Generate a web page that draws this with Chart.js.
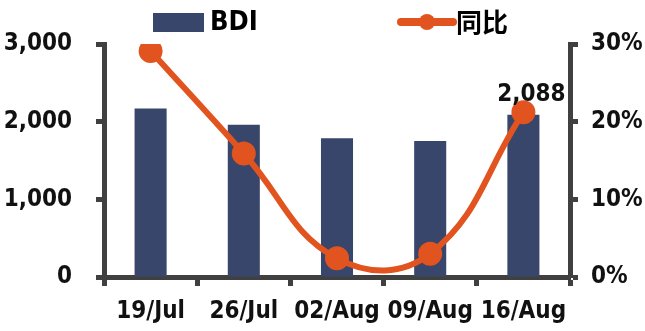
<!DOCTYPE html>
<html>
<head>
<meta charset="utf-8">
<script src="https://cdn.jsdelivr.net/npm/chart.js@4/dist/chart.umd.min.js"></script>
<style>
  html, body { margin: 0; padding: 0; background: #fff; }
</style>
</head>
<body>
<canvas id="chart" width="645" height="331"></canvas>
<script>
// data
const categories = ["19/Jul", "26/Jul", "02/Aug", "09/Aug", "16/Aug"];
const bdiValues = [2170, 1960, 1785, 1750, 2088];
const yoyValues = [0.291, 0.159, 0.024, 0.030, 0.212];
const leftTicks = [0, 1000, 2000, 3000];
const rightTicks = [0, 0.1, 0.2, 0.3];

const barColor = "#37466a";
const lineColor = "#e2541f";
const axisColor = "#404040";
const tickFamily = "'DejaVu Sans Condensed', 'DejaVu Sans', sans-serif";
const tickFont = { family: tickFamily, size: 24, weight: "bold" };

// leyenda a mano (barra + línea con punto)
const legendPlugin = {
    id: "customLegend",
    afterDraw(chart) {
        const ctx = chart.ctx;
        const ds = chart.data.datasets;
        ctx.save();
        ctx.textBaseline = "middle";

        ctx.fillStyle = ds[0].backgroundColor;
        ctx.fillRect(153, 13, 51, 19);
        ctx.fillStyle = "#000";
        ctx.font = "bold 27px " + tickFamily;
        ctx.fillText(ds[0].label, 210, 23);

        ctx.strokeStyle = ds[1].borderColor;
        ctx.lineWidth = 8;
        ctx.lineCap = "round";
        ctx.beginPath();
        ctx.moveTo(401, 22);
        ctx.lineTo(453, 22);
        ctx.stroke();
        ctx.fillStyle = ds[1].borderColor;
        ctx.beginPath();
        ctx.arc(427, 22, 8, 0, Math.PI * 2);
        ctx.fill();
        ctx.fillStyle = "#000";
        ctx.font = "bold 26px 'Noto Sans CJK SC', sans-serif";
        ctx.fillText(ds[1].label, 456, 22);
        ctx.restore();
    }
};

// etiqueta del último valor
const lastLabelPlugin = {
    id: "lastLabel",
    afterDatasetsDraw(chart) {
        const meta = chart.getDatasetMeta(0);
        const i = bdiValues.length - 1;
        const bar = meta.data[i];
        const ctx = chart.ctx;
        ctx.save();
        ctx.font = "bold 24px " + tickFamily;
        ctx.fillStyle = "#111";
        ctx.textAlign = "center";
        ctx.textBaseline = "bottom";
        ctx.fillText(bdiValues[i].toLocaleString("en-US"), bar.x + 8, bar.y - 8);
        ctx.restore();
    }
};

const ctx = document.getElementById("chart").getContext("2d");
new Chart(ctx, {
    type: "bar",
    data: {
        labels: categories,
        datasets: [{
            type: "bar",
            label: "BDI",
            data: bdiValues,
            backgroundColor: barColor,
            yAxisID: "y",
            barPercentage: 0.43,
            categoryPercentage: 0.8,
            order: 1
        }, {
            type: "line",
            label: "同比",
            data: yoyValues,
            borderColor: lineColor,
            backgroundColor: lineColor,
            borderWidth: 6,
            pointRadius: 9,
            pointBackgroundColor: lineColor,
            pointBorderColor: lineColor,
            tension: 0.42,
            yAxisID: "y1",
            order: 0
        }]
    },
    options: {
        responsive: false,
        animation: false,
        layout: { padding: { top: 44, left: 0, right: 0, bottom: 0 } },
        plugins: {
            legend: { display: false },
            tooltip: { enabled: false }
        },
        scales: {
            x: {
                grid: { display: true, drawOnChartArea: false, offset: true, tickLength: 9, tickWidth: 5, tickColor: axisColor },
                border: { color: axisColor, width: 5 },
                ticks: { font: tickFont, color: "#111", padding: 11, maxRotation: 0, autoSkip: false },
                afterFit(scale) { scale.height = 54; }
            },
            y: {
                position: "left",
                min: 0,
                max: 3000,
                afterBuildTicks(scale) { scale.ticks = leftTicks.map(v => ({ value: v })); },
                grid: { display: true, drawOnChartArea: false, tickLength: 8, tickWidth: 5, tickColor: axisColor },
                border: { color: axisColor, width: 5 },
                ticks: { font: tickFont, color: "#111", padding: 24, callback: v => v.toLocaleString("en-US") },
                afterFit(scale) { scale.width = 104; }
            },
            y1: {
                position: "right",
                min: 0,
                max: 0.3,
                afterBuildTicks(scale) { scale.ticks = rightTicks.map(v => ({ value: v })); },
                grid: { display: true, drawOnChartArea: false, tickLength: 8, tickWidth: 5, tickColor: axisColor },
                border: { color: axisColor, width: 5 },
                ticks: { font: tickFont, color: "#111", padding: 13, callback: v => Math.round(v * 100) + "%" },
                afterFit(scale) { scale.width = 75; }
            }
        }
    },
    plugins: [legendPlugin, lastLabelPlugin]
});
</script>
</body>
</html>
